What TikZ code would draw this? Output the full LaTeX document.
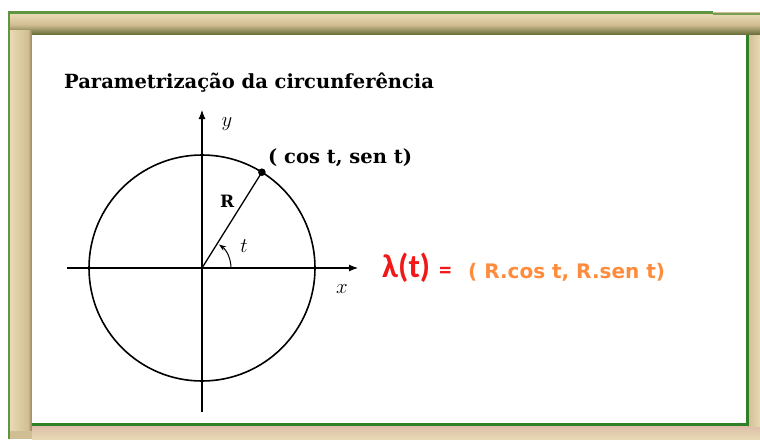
\documentclass[tikz,border=0pt]{standalone}
\usepackage{fontspec}
\setmainfont{DejaVu Serif}
\newfontfamily\calib{Carlito}
\newfontfamily\comic{DejaVu Sans}
\usetikzlibrary{arrows.meta,calc}
\definecolor{frametan}{RGB}{210,190,148}
\definecolor{framelight}{RGB}{232,218,180}
\definecolor{framepink}{RGB}{222,190,170}
\definecolor{framegreen}{RGB}{96,150,64}
\definecolor{frameolive}{RGB}{98,106,52}
\definecolor{framebrown}{RGB}{150,130,90}
\definecolor{innergreen}{RGB}{48,128,40}
\definecolor{lamred}{RGB}{240,24,24}
\definecolor{eqorange}{RGB}{255,140,60}
\tikzset{
  curve/.style={line width=1.6pt, black},
  axis/.style={line width=1.1pt, black, -{Latex[length=9pt,width=7pt]}},
  mathlab/.style={font=\fontsize{22}{26}\selectfont, inner sep=0pt},
  boldlab/.style={font=\bfseries\fontsize{19.5}{23}\selectfont, inner sep=0pt, anchor=base west},
}
\begin{document}
\begin{tikzpicture}[x=1pt,y=-1pt]
\useasboundingbox (0,0) rectangle (760,439);
% frame
\fill[frametan] (8,12) rectangle (760,439);
\shade[top color=framelight, bottom color=frameolive, middle color=frametan] (10,14) rectangle (760,35);
\shade[left color=framelight, right color=frametan] (10,30) rectangle (28,430);
\shade[left color=frametan, right color=framebrown] (28,30) rectangle (32,430);
\shade[top color=framepink, bottom color=framelight] (32,426) rectangle (760,439);
\shade[left color=frametan, right color=framelight] (748,35) rectangle (760,426);
\draw[framegreen, line width=2.5pt] (9.2,439) -- (9.2,12.5) -- (713,12.5);
\draw[framegreen!80!frametan, line width=1.5pt] (713,14) -- (760,14);
\fill[white] (32,35) rectangle (746,424);
\draw[innergreen, line width=3pt] (32,424.5) -- (747.5,424.5) -- (747.5,35);
% title
\node[anchor=base west, inner sep=0pt, font=\bfseries\fontsize{19.5}{24}\selectfont] (title) at (64,88) {Parametrização da circunferência};
% geometry
\coordinate (O) at (202,268);
\coordinate (xl) at (67,268);
\coordinate (xr) at (358,268);
\coordinate (yb) at (202,412);
\coordinate (yt) at (202,110);
\coordinate (P) at (261.9,172.2);
\draw[curve] (O) circle[radius=113];
\draw[axis] (xl) -- (xr);
\draw[axis] (yb) -- (yt);
\draw[line width=1.3pt] (O) -- (P);
\fill (P) circle[radius=3.8];
\draw[line width=1pt, -{Stealth[length=7pt,width=5pt]}] ($(O)+(29,0)$) arc[start angle=0, end angle=-54, radius=29];
\node[mathlab] (ylab) at (227,124) {$y$};
\node[mathlab] (xlab) at (342,289) {$x$};
\node[mathlab] (tlab) at (244,246) {$t$};
\node[boldlab, font=\bfseries\fontsize{17}{20}\selectfont] (R) at (220,207) {R};
\node[boldlab] (pt) at (268,163) {( cos t, sen t)};
% equation
\node[anchor=base west, inner sep=0pt, text=lamred, font=\calib\bfseries\fontsize{33}{36}\selectfont] (lam) at (382,277) {λ(t)};
\node[anchor=base west, inner sep=0pt, text=lamred, font=\calib\bfseries\fontsize{25}{30}\selectfont] (eq) at (439,278) {=};
\node[anchor=base west, inner sep=0pt, text=eqorange, font=\comic\bfseries\fontsize{20}{24}\selectfont] (rhs) at (468,278) {( R.cos t, R.sen t)};
\end{tikzpicture}
\end{document}
